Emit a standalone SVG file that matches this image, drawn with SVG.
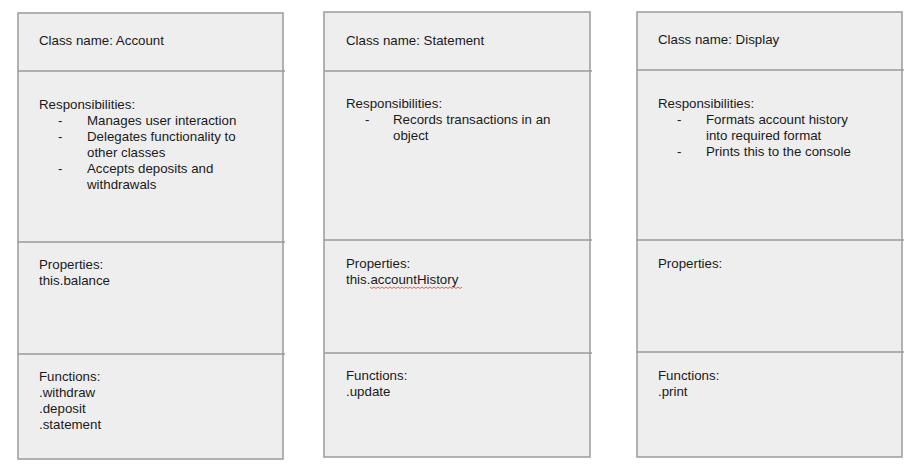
<svg xmlns="http://www.w3.org/2000/svg" width="924" height="476" viewBox="0 0 924 476">
<style>
.box{fill:#eeeeee;stroke:#9a9a9a;stroke-width:1.5}
.div{stroke:#9a9a9a;stroke-width:1.5;fill:none}
text{font-family:"Liberation Sans",Arial,sans-serif;font-size:13.3px;fill:#1a1a1a}
.sq{fill:none;stroke:#e04040;stroke-width:0.8}
</style>
<rect width="924" height="476" fill="#ffffff"/>
<g id="account">
<rect class="box" x="18" y="13" width="265" height="446"/>
<line class="div" x1="18" y1="71" x2="285" y2="71"/>
<line class="div" x1="18" y1="242" x2="285" y2="242"/>
<line class="div" x1="18" y1="354" x2="285" y2="354"/>
<text x="39" y="45">Class name: Account</text>
<text x="39" y="109">Responsibilities:</text>
<text x="58" y="125">-</text><text x="87" y="125">Manages user interaction</text>
<text x="58" y="141">-</text><text x="87" y="141">Delegates functionality to</text>
<text x="87" y="157">other classes</text>
<text x="58" y="173">-</text><text x="87" y="173">Accepts deposits and</text>
<text x="87" y="189">withdrawals</text>
<text x="39" y="269">Properties:</text>
<text x="39" y="285">this.balance</text>
<text x="39" y="381">Functions:</text>
<text x="39" y="397">.withdraw</text>
<text x="39" y="413">.deposit</text>
<text x="39" y="429">.statement</text>
</g>
<g id="statement">
<rect class="box" x="324" y="12" width="266" height="445"/>
<line class="div" x1="324" y1="71" x2="592" y2="71"/>
<line class="div" x1="324" y1="240" x2="592" y2="240"/>
<line class="div" x1="324" y1="353" x2="592" y2="353"/>
<text x="346" y="45">Class name: Statement</text>
<text x="346" y="108">Responsibilities:</text>
<text x="365" y="124">-</text><text x="393" y="124">Records transactions in an</text>
<text x="393" y="140">object</text>
<text x="346" y="268">Properties:</text>
<text x="346" y="284">this.accountHistory</text>
<path class="sq" d="M370 287 l2 1.5 l2 -1.5 l2 1.5 l2 -1.5 l2 1.5 l2 -1.5 l2 1.5 l2 -1.5 l2 1.5 l2 -1.5 l2 1.5 l2 -1.5 l2 1.5 l2 -1.5 l2 1.5 l2 -1.5 l2 1.5 l2 -1.5 l2 1.5 l2 -1.5 l2 1.5 l2 -1.5 l2 1.5 l2 -1.5 l2 1.5 l2 -1.5 l2 1.5 l2 -1.5 l2 1.5 l2 -1.5 l2 1.5 l2 -1.5 l2 1.5 l2 -1.5 l2 1.5 l2 -1.5 l2 1.5 l2 -1.5 l2 1.5 l2 -1.5 l2 1.5 l2 -1.5 l2 1.5 l2 -1.5 l2 1.5 l2 -1.5"/>
<text x="346" y="380">Functions:</text>
<text x="346" y="396">.update</text>
</g>
<g id="display">
<rect class="box" x="637" y="12" width="265" height="445"/>
<line class="div" x1="637" y1="70" x2="904" y2="70"/>
<line class="div" x1="637" y1="240" x2="904" y2="240"/>
<line class="div" x1="637" y1="352" x2="904" y2="352"/>
<text x="658" y="44">Class name: Display</text>
<text x="658" y="108">Responsibilities:</text>
<text x="677" y="124">-</text><text x="706" y="124">Formats account history</text>
<text x="706" y="140">into required format</text>
<text x="677" y="156">-</text><text x="706" y="156">Prints this to the console</text>
<text x="658" y="268">Properties:</text>
<text x="658" y="380">Functions:</text>
<text x="658" y="396">.print</text>
</g>
<g id="connectors"/>
</svg>
